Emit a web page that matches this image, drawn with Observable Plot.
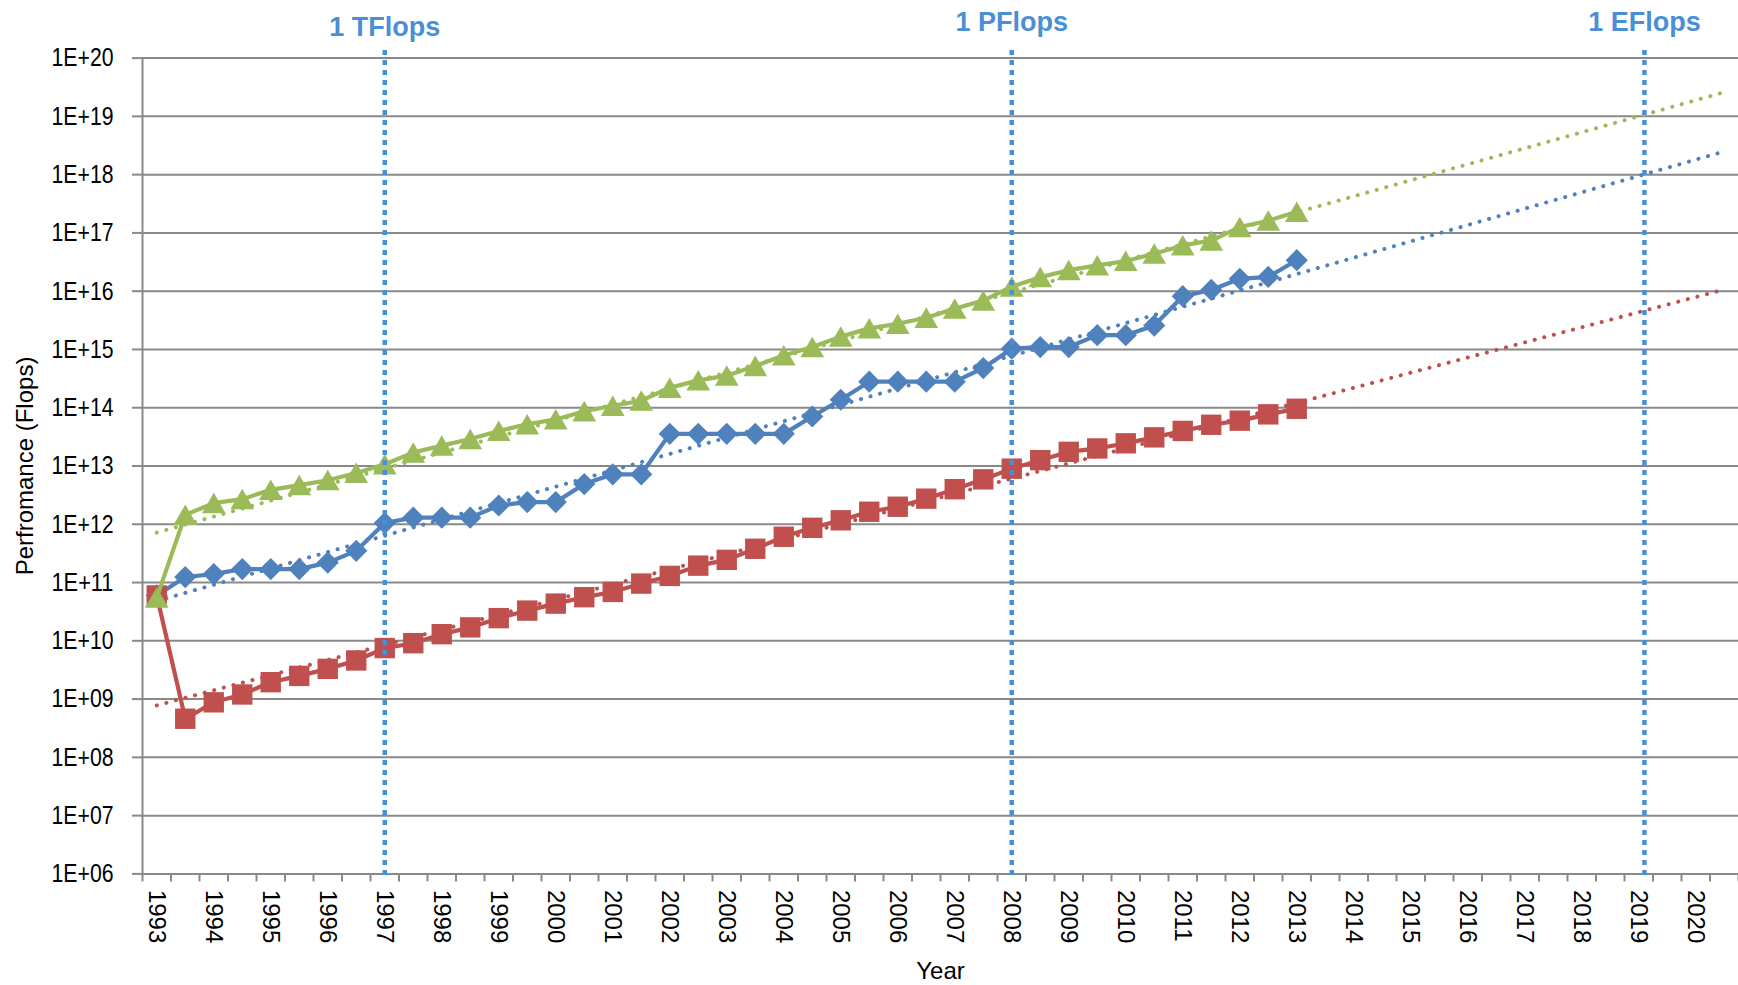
<!DOCTYPE html>
<html>
<head>
<meta charset="utf-8">
<script src="https://cdn.jsdelivr.net/npm/d3@7"></script>
<script src="https://cdn.jsdelivr.net/npm/@observablehq/plot@0.6"></script>
<style>
  html, body { margin: 0; padding: 0; background: #ffffff; }
  #chart { width: 1738px; height: 985px; }
</style>
</head>
<body>
<div id="chart"></div>
<script>
// ---- data ----
const listYears = [1993, 1993.5, 1994, 1994.5, 1995, 1995.5, 1996, 1996.5, 1997, 1997.5,
  1998, 1998.5, 1999, 1999.5, 2000, 2000.5, 2001, 2001.5, 2002, 2002.5,
  2003, 2003.5, 2004, 2004.5, 2005, 2005.5, 2006, 2006.5, 2007, 2007.5,
  2008, 2008.5, 2009, 2009.5, 2010, 2010.5, 2011, 2011.5, 2012, 2012.5, 2013];

// Sum (green triangles)
const sumValues = [5.5e10, 1.45e12, 2.3e12, 2.7e12, 3.9e12, 4.7e12, 5.7e12, 7.6e12, 1.07e13, 1.7e13,
  2.24e13, 2.9e13, 4.0e13, 5.2e13, 6.3e13, 8.7e13, 1.08e14, 1.32e14, 2.2e14, 2.95e14,
  3.55e14, 5.2e14, 7.9e14, 1.1e15, 1.66e15, 2.3e15, 2.76e15, 3.5e15, 5.0e15, 6.9e15,
  1.2e16, 1.74e16, 2.3e16, 2.77e16, 3.3e16, 4.4e16, 6.1e16, 7.4e16, 1.26e17, 1.62e17, 2.3e17];

// #1 (blue diamonds)
const topValues = [6.0e10, 1.24e11, 1.4e11, 1.7e11, 1.7e11, 1.7e11, 2.2e11, 3.5e11, 1.05e12, 1.3e12,
  1.3e12, 1.3e12, 2.1e12, 2.4e12, 2.4e12, 4.9e12, 7.2e12, 7.2e12, 3.56e13, 3.56e13,
  3.56e13, 3.56e13, 3.56e13, 7.07e13, 1.37e14, 2.8e14, 2.8e14, 2.8e14, 2.8e14, 4.8e14,
  1.03e15, 1.1e15, 1.1e15, 1.76e15, 1.76e15, 2.57e15, 8.2e15, 1.05e16, 1.63e16, 1.76e16, 3.4e16];

// #500 (red squares)
const lastValues = [6.0e10, 4.6e8, 8.8e8, 1.2e9, 1.95e9, 2.5e9, 3.3e9, 4.6e9, 7.5e9, 9.1e9,
  1.3e10, 1.7e10, 2.45e10, 3.3e10, 4.35e10, 5.6e10, 6.9e10, 9.6e10, 1.3e11, 1.95e11,
  2.45e11, 3.8e11, 6.1e11, 8.7e11, 1.17e12, 1.64e12, 2.0e12, 2.75e12, 4.0e12, 5.9e12,
  9.0e12, 1.26e13, 1.75e13, 2.0e13, 2.45e13, 3.1e13, 4.0e13, 5.1e13, 6.0e13, 7.7e13, 9.6e13];

// Exponential trend lines (end points)
const trendYears = [1993, 2020.5];
const sumTrend = [7.2e11, 2.6e19];
const topTrend = [4.8e10, 2.5e18];
const lastTrend = [7.8e8, 1.07e16];

// Milestones
const milestoneYears = [1997, 2008, 2019.1];
const milestoneLabels = ["1 TFlops", "1 PFlops", "1 EFlops"];

// Axis ticks
const yearLabels = [1993, 1994, 1995, 1996, 1997, 1998, 1999, 2000, 2001, 2002, 2003, 2004, 2005, 2006,
  2007, 2008, 2009, 2010, 2011, 2012, 2013, 2014, 2015, 2016, 2017, 2018, 2019, 2020];
const yTicks = [1e6, 1e7, 1e8, 1e9, 1e10, 1e11, 1e12, 1e13, 1e14, 1e15, 1e16, 1e17, 1e18, 1e19, 1e20];
const yTickLabels = ["1E+06", "1E+07", "1E+08", "1E+09", "1E+10", "1E+11", "1E+12", "1E+13",
  "1E+14", "1E+15", "1E+16", "1E+17", "1E+18", "1E+19", "1E+20"];

// ---- styling ----
const BLUE = "#4F81BD", RED = "#C0504D", GREEN = "#9BBB59";
const GRID = "#898989";
const MILESTONE = "#4A8FD6";
const xDomain = [1992.75, 2020.75];
const categoryEdges = d3.range(xDomain[0], xDomain[1] + 0.01, 0.5);

const series = (vals) => listYears.map((x, i) => ({x, y: vals[i]}));
const trend = (vals) => trendYears.map((x, i) => ({x, y: vals[i]}));
const sumData = series(sumValues), topData = series(topValues), lastData = series(lastValues);
const milestones = milestoneYears.map((year, i) => ({year, label: milestoneLabels[i]}));

const sans = "'Liberation Sans', Arial, sans-serif";
const dotted = {strokeWidth: 4, strokeDasharray: "0.1,9.8", strokeLinecap: "round"};

const chart = Plot.plot({
  width: 1738,
  height: 985,
  marginLeft: 142,
  marginRight: 0,
  marginTop: 57.6,
  marginBottom: 111.6,
  style: {fontFamily: sans, background: "#ffffff", color: "#000"},
  x: {type: "linear", domain: xDomain, axis: null},
  y: {type: "log", domain: [1e6, 1e20], axis: null},
  marks: [
    // horizontal gridlines (the lowest is the category axis line)
    Plot.ruleY(yTicks, {stroke: GRID, strokeWidth: 2}),
    // value axis line
    Plot.ruleX([xDomain[0]], {stroke: GRID, strokeWidth: 2}),
    // value axis ticks + labels
    Plot.axisY({
      ticks: yTicks, tickSize: 10, tickPadding: 19,
      tickFormat: d => yTickLabels[yTicks.indexOf(d)],
      stroke: GRID, strokeWidth: 2, fill: "#000",
      fontSize: 26, fontFamily: sans, label: null
    }),
    // category axis ticks (between categories)
    Plot.axisX({
      ticks: categoryEdges, tickSize: 8, tickFormat: () => "",
      stroke: GRID, strokeWidth: 2, label: null
    }),
    // category labels, rotated
    Plot.text(yearLabels, {
      x: d => d, text: d => String(d), frameAnchor: "bottom",
      rotate: 90, textAnchor: "start", lineAnchor: "middle", dy: 16,
      fontSize: 24, fontFamily: sans, fill: "#000"
    }),
    // axis titles
    Plot.text(["Year"], {
      frameAnchor: "bottom", lineAnchor: "bottom", textAnchor: "middle", dy: 104.6,
      fontSize: 24, fontFamily: sans, fill: "#000", text: d => d
    }),
    Plot.text(["Perfromance (Flops)"], {
      frameAnchor: "left", rotate: -90, textAnchor: "middle", lineAnchor: "middle", dx: -117,
      fontSize: 24, fontFamily: sans, fill: "#000", text: d => d
    }),
    // trend lines
    Plot.line(trend(sumTrend), {x: "x", y: "y", stroke: GREEN, ...dotted}),
    Plot.line(trend(topTrend), {x: "x", y: "y", stroke: BLUE, ...dotted}),
    Plot.line(trend(lastTrend), {x: "x", y: "y", stroke: RED, ...dotted}),
    // #1
    Plot.line(topData, {x: "x", y: "y", stroke: BLUE, strokeWidth: 4.2}),
    Plot.dot(topData, {x: "x", y: "y", symbol: "diamond2", r: 10, fill: BLUE, stroke: "none"}),
    // #500
    Plot.line(lastData, {x: "x", y: "y", stroke: RED, strokeWidth: 4.2}),
    Plot.dot(lastData, {x: "x", y: "y", symbol: "square", r: 11.5, fill: RED, stroke: "none"}),
    // Sum
    Plot.line(sumData, {x: "x", y: "y", stroke: GREEN, strokeWidth: 4.2}),
    Plot.dot(sumData, {x: "x", y: "y", symbol: "triangle", r: 8.8, dy: 3.3, fill: GREEN, stroke: "none"}),
    // milestone lines
    Plot.ruleX(milestones, {
      x: "year", stroke: MILESTONE, strokeWidth: 4.5, strokeDasharray: "5,5",
      insetTop: -7.6, insetBottom: -4.6
    }),
    Plot.text(milestones.filter((d, i) => i === 0), {
      x: "year", text: "label", frameAnchor: "top", lineAnchor: "bottom", dy: -22.6,
      fontSize: 27, fontWeight: "bold", fontFamily: sans, fill: MILESTONE
    }),
    Plot.text(milestones.filter((d, i) => i > 0), {
      x: "year", text: "label", frameAnchor: "top", lineAnchor: "bottom", dy: -26.6,
      fontSize: 27, fontWeight: "bold", fontFamily: sans, fill: MILESTONE
    })
  ]
});
// condense the value-axis labels to the narrow look of the original
d3.select(chart).selectAll("g[aria-label='y-axis tick label'] text")
  .attr("textLength", 62).attr("lengthAdjust", "spacingAndGlyphs");
document.getElementById("chart").appendChild(chart);
</script>
</body>
</html>
